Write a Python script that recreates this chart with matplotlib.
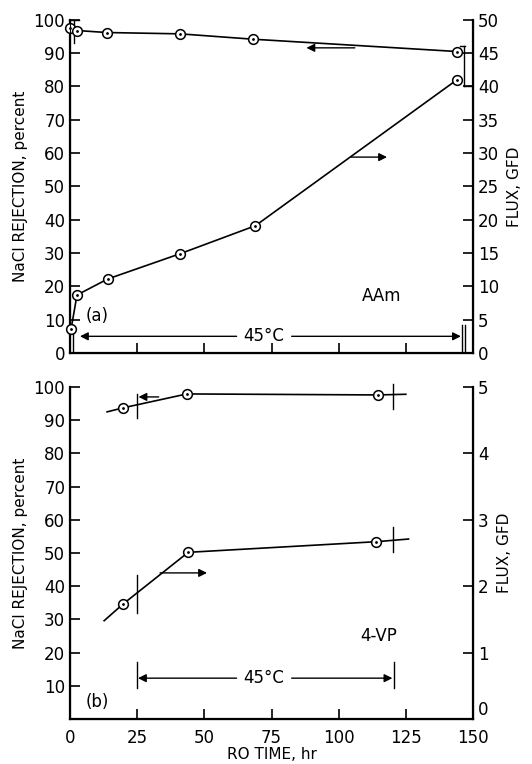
import numpy as np
import matplotlib.pyplot as plt

plt.rcParams['font.family'] = 'DejaVu Sans'

# panel (a): AAm
a_time_rej = [0.0, 2.6, 13.7, 41, 68, 144]
a_rej = [97.5, 96.8, 96.2, 95.8, 94.2, 90.5]
a_time_flux = [0.4, 2.6, 14, 41, 69, 144]
a_flux = [3.6, 8.7, 11.1, 14.9, 19.1, 41.0]

# panel (b): 4-VP
b_time = [19.7, 43.5, 114.6]
b_rej = [93.7, 97.9, 97.6]
b_time_flux = [19.7, 44, 114]
b_flux = [1.73, 2.51, 2.67]
# line extensions beyond the measured points
b_rej_start, b_rej_end = (13.8, 92.5), (125, 97.8)
b_flux_start, b_flux_end = (12.7, 1.48), (126, 2.71)

x_ticks = [0, 25, 50, 75, 100, 125, 150]

fig = plt.figure(figsize=(5.32, 7.64), dpi=100)
ax1 = fig.add_axes([0.1316, 0.538, 0.7575, 0.436])
ax2 = fig.add_axes([0.1316, 0.0589, 0.7575, 0.4346])

lw = 1.2
fs = 12


def style(ax, rax):
    ax.spines['top'].set_visible(False)
    rax.spines['top'].set_visible(False)
    for s in ['left', 'bottom']:
        ax.spines[s].set_linewidth(1.6)
    rax.spines['right'].set_linewidth(1.6)
    ax.tick_params(direction='in', length=7, width=1.2, labelsize=fs)
    ax.tick_params(axis='x', pad=7)
    rax.tick_params(direction='in', length=7, width=1.2, labelsize=fs)
    ax.set_xlim(0, 150)
    ax.set_xticks(x_ticks)


def circles(ax, x, y):
    ax.plot(x, y, 'o', ms=7, mfc='white', mec='black', mew=1.1, clip_on=False, zorder=5)
    ax.plot(x, y, '.', ms=2, color='black', clip_on=False, zorder=6)


def arrow(ax, x0, y0, x1, y1):
    ax.annotate('', xy=(x1, y1), xytext=(x0, y0),
                arrowprops=dict(arrowstyle='-|>', color='black', lw=1.0,
                                mutation_scale=12, shrinkA=0, shrinkB=0))


# ---- top panel ----
r1 = ax1.twinx()
style(ax1, r1)
ax1.set_ylim(0, 100)
ax1.set_yticks(np.arange(0, 101, 10))
r1.set_ylim(0, 50)
r1.set_yticks(np.arange(0, 51, 5))
ax1.set_xticklabels([])

ax1.plot(a_time_rej, a_rej, color='black', lw=lw, clip_on=False)
circles(ax1, a_time_rej, a_rej)
r1.plot(a_time_flux, a_flux, color='black', lw=lw, clip_on=False)
circles(r1, a_time_flux, a_flux)

# brackets at the ends of the run
ax1.plot([1.5, 1.5], [100, 93], color='black', lw=1.0, clip_on=False)
ax1.plot([-0.5, 3.2], [100, 100], color='black', lw=1.0, clip_on=False)
ax1.plot([1.0, 1.0], [0, 7], color='black', lw=1.0)
r1.plot([146.6, 146.6], [46.1, 40], color='black', lw=1.0)
r1.plot([145.2, 147.2], [46.1, 46.1], color='black', lw=1.0)
r1.plot([146.6, 150], [40, 40], color='black', lw=1.0)
ax1.plot([146.0, 146.0], [0, 8.4], color='black', lw=1.0)
ax1.plot([147.0, 147.0], [0, 8.4], color='black', lw=1.0)

arrow(ax1, 106, 91.6, 88, 91.6)
arrow(ax1, 104.6, 58.8, 118, 58.8)

ax1.text(72, 5, '45°C', fontsize=fs, ha='center', va='center')
arrow(ax1, 62, 5, 3.7, 5)
arrow(ax1, 82.5, 5, 145.5, 5)
ax1.text(10, 11, '(a)', fontsize=fs, ha='center', va='center')
ax1.text(116, 17, 'AAm', fontsize=fs, ha='center', va='center')

ax1.set_ylabel('NaCl REJECTION, percent', fontsize=11, labelpad=4)
r1.set_ylabel('FLUX, GFD', fontsize=11, labelpad=6)

# ---- bottom panel ----
r2 = ax2.twinx()
style(ax2, r2)
ax2.set_ylim(0, 100)
ax2.set_yticks(np.arange(10, 101, 10))
r2.set_ylim(0, 5)
r2.set_yticks(np.arange(0, 6, 1))
r2.set_yticklabels([''] + [str(v) for v in range(1, 6)])
# the right-hand zero sits a little above the 150 label
r2.text(1.012, 0.0, '0', transform=r2.transAxes, fontsize=fs,
        ha='left', va='bottom')

rx = [b_rej_start[0]] + b_time + [b_rej_end[0]]
ry = [b_rej_start[1]] + b_rej + [b_rej_end[1]]
ax2.plot(rx, ry, color='black', lw=lw)
circles(ax2, b_time, b_rej)
fx = [b_flux_start[0]] + b_time_flux + [b_flux_end[0]]
fy = [b_flux_start[1]] + b_flux + [b_flux_end[1]]
r2.plot(fx, fy, color='black', lw=lw)
circles(r2, b_time_flux, b_flux)

ax2.plot([25, 25], [98, 90.7], color='black', lw=1.0)
ax2.plot([120.3, 120.3], [101, 93.4], color='black', lw=1.0, clip_on=False)
r2.plot([25, 25], [2.17, 1.6], color='black', lw=1.0)
r2.plot([120.3, 120.3], [2.89, 2.52], color='black', lw=1.0)

arrow(ax2, 33, 97, 25.5, 97)
arrow(r2, 33.5, 2.2, 51, 2.2)

ax2.text(72, 12.3, '45°C', fontsize=fs, ha='center', va='center')
arrow(ax2, 62, 12.3, 25.3, 12.3)
arrow(ax2, 82.5, 12.3, 120, 12.3)
ax2.plot([25, 25], [17.2, 9.3], color='black', lw=1.0)
ax2.plot([120.5, 120.5], [17.2, 9.3], color='black', lw=1.0)
ax2.text(10, 5, '(b)', fontsize=fs, ha='center', va='center')
ax2.text(115, 25, '4-VP', fontsize=fs, ha='center', va='center')

ax2.set_ylabel('NaCl REJECTION, percent', fontsize=11, labelpad=4)
r2.set_ylabel('FLUX, GFD', fontsize=11, labelpad=6)
ax2.set_xlabel('RO TIME, hr', fontsize=11, labelpad=0)

fig.savefig('out.png', dpi=100)
